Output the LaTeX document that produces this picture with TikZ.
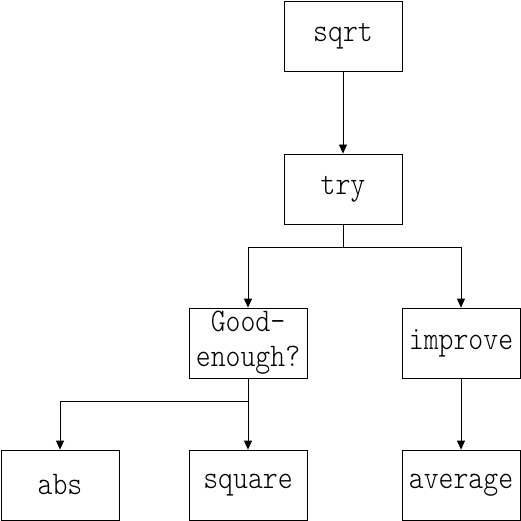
\documentclass[tikz,border=0pt]{standalone}
\usepackage{fontspec}
\newfontfamily\boxfont[FakeStretch=0.86]{Latin Modern Mono Light}
\usetikzlibrary{arrows.meta}
\usetikzlibrary{positioning}

\begin{document}
\begin{tikzpicture}[x=1pt,y=-1pt,line width=0.8pt,
      fn style/.style={rectangle,draw=black,minimum width=118pt,
        minimum height=70pt,align=center,inner sep=0pt,
        font=\boxfont\fontsize{33}{35}\selectfont},
      call/.style={-{Triangle[length=9pt,width=8pt]}}
      ]
      \useasboundingbox (0,0) rectangle (521,521);
      \node[fn style] (sqrt) at (343,36) {sqrt};
      \node[fn style] (try) at (343,189) {try};
      \node[fn style] (good) at (248,343) {Good-\\enough?};
      \node[fn style] (improve) at (461,343) {improve};
      \node[fn style] (abs) at (60,485) {abs};
      \node[fn style] (square) at (248,485) {square};
      \node[fn style] (average) at (461,485) {average};

      \coordinate (trysplit) at (343,247);
      \coordinate (goodsplit) at (248,401);

      \draw[call] (sqrt) -- (try);
      \draw (try) -- (trysplit);
      \draw[call] (trysplit) -| (good);
      \draw[call] (trysplit) -| (improve);

      \draw (good) -- (goodsplit);
      \draw[call] (goodsplit) -| (abs);
      \draw[call] (goodsplit) -- (square);

      \draw[call] (improve) -- (average);
\end{tikzpicture}
\end{document}
